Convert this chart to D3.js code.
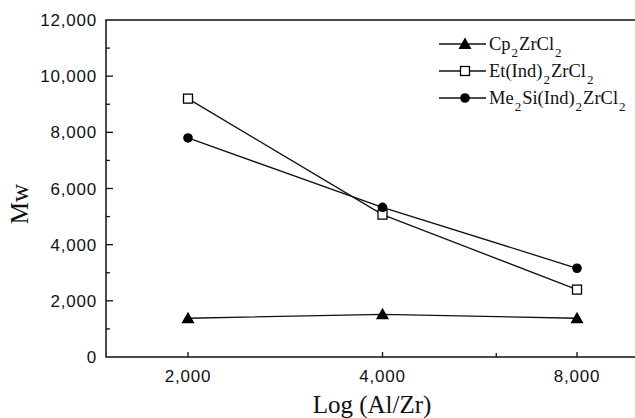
<!DOCTYPE html>
<html>
<head>
<meta charset="utf-8">
<script src="https://cdn.jsdelivr.net/npm/d3@7"></script>
<style>
body { margin: 0; background: #fff; }
svg { display: block; }
.tick-label { font-family: "Liberation Sans", Arial, sans-serif; font-size: 17px; letter-spacing: 0.8px; fill: #111; }
.title { font-family: "Liberation Serif", "Times New Roman", serif; font-size: 25px; fill: #111; }
.legend { font-family: "Liberation Serif", "Times New Roman", serif; font-size: 18.5px; fill: #111; }
</style>
</head>
<body>
<div id="chart"></div>
<script>
var ratios = [2000, 4000, 8000];
var cp = [1380, 1520, 1380];
var et = [9200, 5070, 2400];
var me = [7800, 5330, 3160];
var yTicks = [0, 2000, 4000, 6000, 8000, 10000, 12000];
var yMinor = [1000, 3000, 5000, 7000, 9000, 11000];
var xMinor = [6000];
var legendNames = [
	[["Cp", 0], ["2", 1], ["ZrCl", 0], ["2", 1]],
	[["Et(Ind)", 0], ["2", 1], ["ZrCl", 0], ["2", 1]],
	[["Me", 0], ["2", 1], ["Si(Ind)", 0], ["2", 1], ["ZrCl", 0], ["2", 1]]
];

var series = [
	{values: cp, shape: "triangle"},
	{values: et, shape: "square"},
	{values: me, shape: "circle"}
];

var W = 635, H = 418;
var pLeft = 106, pTop = 20, pBottom = 357, pRight = 645;

var svg = d3.select("#chart").append("svg").attr("width", W).attr("height", H);

var x = d3.scaleLog().domain([2000, 8000]).range([188, 577]);
var y = d3.scaleLinear().domain([0, 12000]).range([pBottom, pTop]);

// frame, open on the right
svg.append("path")
	.attr("d", "M" + pRight + "," + pTop + "H" + pLeft + "V" + pBottom + "H" + pRight)
	.attr("fill", "none").attr("stroke", "#111").attr("stroke-width", 1.5);

// y axis ticks (inward)
svg.selectAll("line.ymaj").data(yTicks.slice(1, -1)).enter().append("line")
	.attr("x1", pLeft).attr("x2", pLeft + 7)
	.attr("y1", function (d) { return y(d); }).attr("y2", function (d) { return y(d); })
	.attr("stroke", "#111").attr("stroke-width", 1.3);
svg.selectAll("line.ymin").data(yMinor).enter().append("line")
	.attr("x1", pLeft).attr("x2", pLeft + 4)
	.attr("y1", function (d) { return y(d); }).attr("y2", function (d) { return y(d); })
	.attr("stroke", "#111").attr("stroke-width", 1.3);
svg.selectAll("text.ylab").data(yTicks).enter().append("text")
	.attr("class", "tick-label")
	.attr("x", pLeft - 9).attr("y", function (d) { return y(d); })
	.attr("dy", "0.36em").attr("text-anchor", "end")
	.text(function (d) { return d3.format(",")(d); });

// x axis ticks (inward)
svg.selectAll("line.xmaj").data(ratios).enter().append("line")
	.attr("y1", pBottom).attr("y2", pBottom - 5)
	.attr("x1", function (d) { return x(d); }).attr("x2", function (d) { return x(d); })
	.attr("stroke", "#111").attr("stroke-width", 1.3);
svg.selectAll("line.xmin").data(xMinor).enter().append("line")
	.attr("y1", pBottom).attr("y2", pBottom - 4)
	.attr("x1", function (d) { return x(d); }).attr("x2", function (d) { return x(d); })
	.attr("stroke", "#111").attr("stroke-width", 1.3);
svg.selectAll("text.xlab").data(ratios).enter().append("text")
	.attr("class", "tick-label")
	.attr("x", function (d) { return x(d); }).attr("y", 382)
	.attr("text-anchor", "middle")
	.text(function (d) { return d3.format(",")(d); });

// titles
svg.append("text").attr("class", "title")
	.attr("x", 372).attr("y", 413).attr("text-anchor", "middle")
	.text("Log (Al/Zr)");
svg.append("text").attr("class", "title")
	.attr("transform", "translate(28,204) rotate(-90)")
	.attr("text-anchor", "middle")
	.text("Mw");

function marker (g, shape, cx, cy) {
	if (shape == "triangle") {
		g.append("path")
			.attr("d", "M" + cx + "," + (cy - 6.5) + "L" + (cx + 6.5) + "," + (cy + 5) + "L" + (cx - 6.5) + "," + (cy + 5) + "Z")
			.attr("fill", "#000");
	} else if (shape == "square") {
		g.append("rect")
			.attr("x", cx - 4.5).attr("y", cy - 4.5).attr("width", 9).attr("height", 9)
			.attr("fill", "#fff").attr("stroke", "#000").attr("stroke-width", 1.3);
	} else {
		g.append("circle").attr("cx", cx).attr("cy", cy).attr("r", 4.8).attr("fill", "#000");
	}
}

var line = d3.line()
	.x(function (d, i) { return x(ratios[i]); })
	.y(function (d) { return y(d); });

series.forEach(function (s) {
	svg.append("path").datum(s.values)
		.attr("d", line)
		.attr("fill", "none").attr("stroke", "#111").attr("stroke-width", 1.3);
	var g = svg.append("g");
	s.values.forEach(function (v, i) {
		marker(g, s.shape, x(ratios[i]), y(v));
	});
});

// legend
var legY = [44, 71, 98];
series.forEach(function (s, i) {
	var g = svg.append("g");
	g.append("line").attr("x1", 439).attr("x2", 486)
		.attr("y1", legY[i]).attr("y2", legY[i])
		.attr("stroke", "#111").attr("stroke-width", 1.3);
	marker(g, s.shape, 465, legY[i]);
	var t = g.append("text").attr("class", "legend")
		.attr("x", 489).attr("y", legY[i] + 6);
	legendNames[i].forEach(function (p, k) {
		var ts = t.append("tspan").text(p[0]);
		if (p[1]) {
			ts.attr("font-size", "13px").attr("dy", 7).attr("dx", 1);
		} else if (k > 0) {
			ts.attr("dy", -7).attr("dx", 1);
		}
	});
});
</script>
</body>
</html>
